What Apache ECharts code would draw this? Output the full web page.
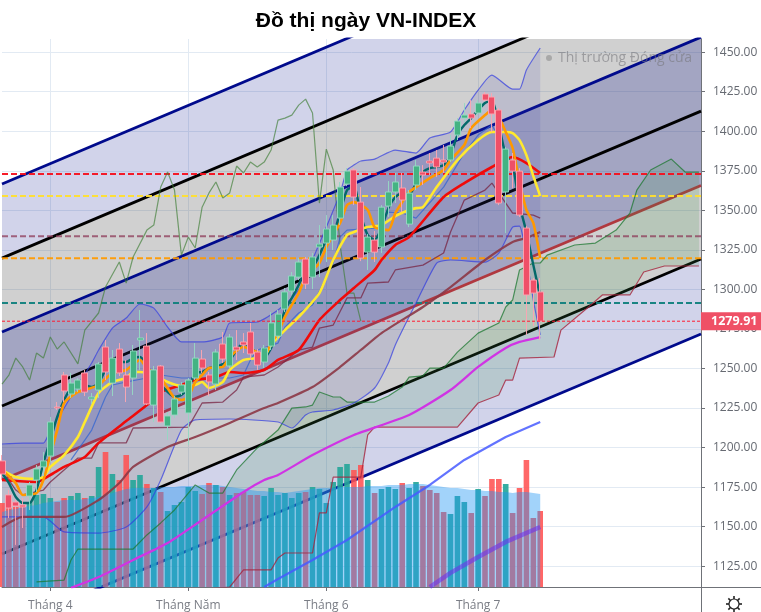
<!DOCTYPE html>
<html><head><meta charset="utf-8"><style>html,body{margin:0;padding:0;background:#fff}#c{width:761px;height:612px}</style>
<script src="https://cdn.jsdelivr.net/npm/echarts@6/dist/echarts.min.js"></script></head>
<body><div id="c"></div><script>
const title='Đồ thị ngày VN-INDEX';
const statusText='Thị trường Đóng cửa';
const lastClose=1279.91;
const tickIndex=[7,27,47,69];
const tickNames=['Tháng 4','Tháng Năm','Tháng 6','Tháng 7'];
const priceTicks=[1125,1150,1175,1200,1225,1250,1275,1300,1325,1350,1375,1400,1425,1450];
const opens=[1191.6,1170.1,1165.6,1163.7,1169.4,1179.5,1187.8,1194.7,1225.7,1245.9,1233.9,1237,1247.2,1230.7,1236.4,1263.6,1240.8,1262.3,1245.9,1244,1268,1264.2,1226.9,1251.6,1213.7,1220.6,1235.1,1221.9,1244,1256,1245.9,1240.2,1265.5,1251.6,1263.6,1266.8,1273.1,1260.4,1254.1,1264.2,1270.5,1287.6,1299,1307.8,1319.2,1307.8,1326.8,1329.3,1331.2,1345.1,1366.6,1375.5,1355.2,1323.6,1331.2,1326.8,1352.7,1361.6,1364.1,1341.3,1366,1374.2,1381.2,1383,1381.8,1381.8,1397.6,1408.3,1410.9,1411.5,1423.5,1421.6,1413.4,1361.6,1381.8,1374.8,1338.8,1305.9,1298.4];
const closes=[1183.3,1161.8,1163.1,1162.5,1176.4,1186.5,1191.6,1216.2,1225,1235.8,1240.8,1242.7,1235.1,1232,1252.9,1247.8,1256.6,1247.2,1238.3,1261.1,1269.3,1227.6,1249.1,1216.2,1220,1230.7,1239.6,1242.7,1256.6,1250.3,1241.5,1260.4,1256,1269.9,1261.7,1264.9,1259.2,1252.2,1263,1278.8,1284.4,1298.4,1308.5,1317.3,1303.4,1320.5,1328.7,1338.2,1340.7,1364.7,1374.8,1358.4,1319.8,1333.1,1323.6,1352,1361.6,1367.9,1356.5,1360.9,1378,1372.3,1379.9,1377.4,1380.5,1390.6,1406.4,1410.2,1408.3,1417.8,1419.7,1410.9,1354.6,1388.7,1374.8,1347,1296.5,1297.7,1279.91];
const lows=[1179.5,1155.5,1138.5,1149.2,1160.6,1172,1182,1191,1223.8,1228.8,1231.4,1235.1,1232.6,1227.6,1231.4,1242.7,1232.6,1245.3,1228.8,1233.3,1249.1,1226.9,1216.2,1215.6,1204.8,1218.7,1233.3,1201.7,1242.7,1247.2,1232.6,1236.4,1253.5,1250.3,1255.4,1259.8,1255.4,1249.1,1250.3,1261.7,1268,1285.7,1296.5,1305.9,1300.3,1300.3,1307.8,1317.3,1324.9,1340.7,1365.3,1353.3,1317.9,1312.3,1317.3,1323,1345.8,1354.6,1348.9,1339.4,1362.8,1366,1372.3,1371,1373.6,1380.5,1394.4,1405.8,1402,1410.2,1419.1,1399.5,1353.3,1335.6,1364.1,1345.8,1271.2,1276.9,1268];
const highs=[1195.3,1173.2,1166.9,1168.2,1178.3,1189,1197.2,1219.4,1228.8,1247.8,1247.2,1244,1249.1,1234.5,1254.1,1268,1261.7,1266.1,1255.4,1264.9,1287,1272.4,1251.6,1252.2,1222.5,1232.6,1241.5,1244,1266.1,1261.7,1247.8,1262.3,1273.1,1271.8,1274.3,1272.4,1278.8,1262.3,1264.9,1285.7,1287,1300.9,1311,1319.8,1320.5,1323,1340.7,1347,1347,1367.9,1376.7,1376.7,1364.7,1335,1336.9,1353.3,1368.5,1373.6,1373.6,1362.8,1381.8,1378.6,1386.2,1388.1,1391.3,1397.6,1408.3,1417.8,1419.7,1419.7,1424.8,1424.1,1414.6,1390,1386.2,1376.7,1340,1307.2,1307.2];
const volumes=[168,164,160,160,170,184,186,178,170,178,182,188,178,182,240,270,226,214,264,214,224,206,198,190,152,164,170,200,192,186,208,204,200,184,188,190,184,184,182,198,184,188,178,188,190,200,196,168,210,240,246,234,244,214,188,196,200,196,208,198,210,202,194,188,150,146,182,170,148,196,182,216,216,206,148,198,254,138,152];
const volumeMA=[150,154,156,160,162,164,168,170,172,174,174,174,176,178,180,184,188,192,196,198,198,198,198,200,200,200,202,202,202,204,204,204,202,200,198,196,194,192,192,190,190,188,190,192,194,196,198,198,198,200,200,200,200,202,202,202,204,204,204,206,206,206,204,202,200,198,198,196,194,194,192,192,190,190,188,190,190,188,186];
const ma5=[[0,1185.9],[2,1177.6],[3,1170.1],[5,1171.3],[6,1179.5],[7,1195.3],[8,1211.1],[9,1228.2],[11,1235.2],[12,1236.4],[14,1239.6],[16,1247.2],[18,1249.1],[20,1255.4],[21,1250.3],[23,1244],[25,1231.4],[26,1230.1],[27,1232],[28,1241.5],[29,1245.9],[30,1250.3],[32,1251],[33,1257.3],[35,1263.6],[37,1260.4],[38,1258.5],[39,1266.1],[40,1272.4],[41,1282.6],[43,1297.7],[44,1307.8],[46,1316.7],[47,1326.8],[49,1342],[50,1353.3],[51,1355.2],[53,1350.2],[54,1339.4],[56,1337.5],[57,1348.3],[58,1355.2],[59,1361.6],[60,1364.7],[62,1370.4],[64,1375.5],[65,1381.8],[67,1391.3],[68,1402],[70,1410.2],[71,1413.4],[72,1409],[73,1399.5],[74,1389.4],[75,1367.9],[76,1350.2],[77,1342],[78,1319.8]];
const ma10=[[0,1185.9],[2,1181.4],[5,1180.2],[6,1181.4],[7,1187.8],[9,1195.3],[11,1206.7],[12,1216.2],[14,1234.5],[16,1241.5],[18,1244],[19,1247.8],[20,1247.8],[22,1245.9],[24,1241.5],[26,1239],[28,1239.6],[29,1241.5],[30,1237.7],[32,1241.5],[33,1249.1],[35,1255.4],[37,1256.6],[38,1257.3],[39,1264.9],[41,1274.3],[43,1282.6],[46,1297.7],[48,1318.6],[50,1334.4],[51,1336.3],[53,1339.4],[55,1340.7],[57,1346.4],[59,1350.2],[60,1351.4],[61,1352],[63,1364.7],[66,1381.8],[69,1394.4],[71,1399.5],[73,1399.5],[74,1398.8],[75,1394.4],[76,1384.9],[77,1371.7],[78,1359]];
const ma20=[[0,1179.5],[5,1178.3],[7,1182.7],[9,1187.8],[12,1194.1],[14,1203],[18,1216.8],[21,1226.9],[23,1235.2],[26,1239.6],[28,1242.7],[31,1244.6],[33,1247.8],[35,1247.2],[38,1249.1],[40,1255.4],[43,1261.7],[46,1280.7],[49,1293.3],[51,1300.9],[54,1312.3],[55,1318.6],[57,1328.1],[59,1333.1],[64,1358.4],[67,1367.2],[71,1377.4],[74,1383.7],[76,1379.9],[78,1373.6]];
const ma50=[[0,1149.8],[3,1156.2],[9,1156.2],[14,1166.9],[17,1177.6],[19,1187.8],[24,1200.4],[28,1206.7],[33,1215.6],[38,1225],[40,1228.2],[45,1238.3],[49,1251],[52,1261.7],[55,1272.4],[61,1288.9],[65,1301.5],[70,1318.6],[74,1330],[76,1332.5],[78,1336.3]];
const ma100=[[10,1111.3],[14,1118.2],[19,1129],[24,1139.7],[29,1154.3],[35,1172],[38,1179.5],[40,1182.7],[45,1195.3],[51,1208],[59,1220.6],[65,1236.4],[69,1251],[73,1263],[75,1266.8],[78,1269.9]];
const ma200=[[38,1111.9],[40,1117],[45,1129],[50,1141.6],[57,1162.5],[62,1176.4],[67,1192.2],[73,1206.7],[78,1216.2]];
const ma300=[[62,1111.9],[65,1120.8],[69,1130.9],[73,1140.4],[78,1149.8]];
const emaFast=[[0,1184],[1,1177.6],[2,1168.8],[3,1165],[4,1165],[5,1173.2],[6,1190.3],[7,1204.8],[8,1219.4],[9,1230.1],[10,1237.7],[11,1240.8],[12,1239.6],[13,1238.3],[14,1240.8],[15,1249.1],[16,1253.5],[17,1254.1],[18,1254.1],[19,1256.6],[20,1257.3],[21,1252.2],[22,1244],[23,1239.6],[25,1232],[26,1233.3],[27,1237.7],[28,1247.2],[29,1247.8],[30,1250.3],[31,1251],[33,1255.4],[34,1261.7],[35,1266.1],[36,1263],[37,1259.8],[38,1256.6],[40,1272.4],[41,1287],[42,1294.6],[43,1302.8],[44,1312.3],[45,1313.5],[46,1321.7],[47,1331.2],[48,1334.4],[49,1348.9],[50,1362.8],[51,1365.3],[52,1347],[53,1334.4],[54,1331.2],[55,1338.8],[56,1351.4],[57,1358.4],[58,1360.9],[59,1359.7],[60,1367.2],[61,1374.2],[62,1376.7],[63,1377.4],[64,1378.6],[65,1384.9],[66,1397.6],[67,1403.9],[68,1408.3],[69,1413.4],[70,1417.8],[71,1419.7],[72,1403.9],[73,1384.9],[74,1378.6],[75,1353.3],[76,1336.3],[77,1315.4],[78,1295.8]];
const tenkan=[[10,1192.2],[12,1204.8],[13,1211.1],[15,1232],[16,1239.6],[18,1241.5],[21,1244],[23,1245.9],[26,1244],[30,1244],[33,1244],[35,1245.9],[36,1255.4],[37,1261.7],[40,1266.1],[41,1276.2],[43,1285.1],[45,1290.1],[48,1316.7],[49,1333.1],[50,1337.5],[54,1338.8],[56,1348.9],[58,1348.3],[60,1345.1],[64,1364.7],[67,1386.2],[69,1397.6],[71,1403.9],[73,1388.1]];
const kijun=[[0,1180.8],[1,1179.5],[2,1173.2],[3,1170.1],[6,1173.2],[7,1178.3],[9,1185.9],[11,1193.4],[13,1193.4],[14,1203],[18,1203],[19,1212.4],[27,1213],[29,1228.2],[32,1228.8],[34,1236.4],[35,1244.6],[38,1245.9],[40,1251],[43,1261.7],[45,1263.6],[46,1275.6],[48,1277.5],[50,1294.6],[52,1294.6],[53,1304],[56,1304.7],[57,1312.3],[61,1315.4],[64,1323],[65,1336.3],[67,1356.5],[70,1362.8],[71,1367.2],[74,1348.3],[77,1347],[78,1345.1]];
const bollUpper=[[0,1202.3],[3,1202.9],[6,1202.9],[7,1211.1],[9,1225],[11,1239.6],[13,1253.5],[14,1261.7],[16,1275.6],[18,1281.9],[20,1290.8],[22,1288.2],[24,1276.2],[26,1266.8],[29,1266.8],[32,1269.9],[33,1278.8],[37,1279.4],[40,1287],[42,1294.6],[44,1305.9],[45,1318.6],[47,1339.4],[49,1360.9],[50,1375.5],[51,1378.6],[52,1381.2],[54,1382.4],[57,1388.1],[60,1386.2],[62,1395.7],[65,1399.5],[67,1413.4],[69,1426],[71,1435.5],[74,1426.6],[75,1426.6],[76,1438.7],[78,1452.6]];
const bollLower=[[0,1156.2],[6,1156.2],[9,1146.7],[14,1146],[18,1149.8],[21,1162.5],[23,1179.5],[26,1211.1],[28,1217.5],[33,1218.1],[40,1216.2],[42,1212.4],[44,1220.6],[45,1222.5],[48,1223.8],[51,1228.2],[54,1237.7],[56,1253.5],[57,1264.9],[60,1291.4],[63,1316.7],[65,1318.6],[70,1317.3],[72,1323],[74,1339.4],[75,1340],[76,1320.5],[77,1293.3],[78,1271.2]];
const spanA=[[5,1115.1],[9,1116.3],[10,1129],[11,1135.9],[19,1135.9],[21,1144.8],[23,1152.4],[25,1160.6],[28,1176.4],[30,1171.3],[32,1171.3],[34,1185.9],[37,1199.8],[40,1211.1],[42,1225],[44,1225.7],[45,1226.9],[46,1235.2],[48,1232],[49,1232],[50,1228.8],[51,1228.8],[54,1228.8],[56,1232.6],[58,1238.3],[59,1244.6],[61,1245.3],[62,1250.3],[64,1250.3],[66,1260.4],[69,1272.4],[72,1278.8],[73,1288.9],[74,1293.3],[75,1312.3],[77,1316.7],[78,1316.7],[79,1321.7],[83,1328.1],[86,1329.3],[89,1337.5],[91,1348.3],[92,1362.8],[94,1375.5],[97,1382.4],[99,1374.2],[101,1374.2]];
const spanB=[[5,1100],[33,1111.9],[35,1122.7],[39,1122.7],[40,1130.2],[41,1133.4],[45,1133.4],[46,1158.7],[47,1158.7],[48,1181.4],[52,1181.4],[53,1208],[54,1213],[66,1213],[69,1228.2],[72,1233.3],[73,1242.7],[74,1242.7],[75,1256.6],[80,1257.3],[81,1274.3],[85,1288.9],[87,1296.5],[91,1296.5],[93,1311],[96,1314.8],[101,1314.8]];
const chikou=[[0,1240.2],[1,1245.9],[2,1256.6],[3,1251],[4,1242.7],[5,1259.8],[6,1256.6],[7,1269.9],[8,1262.3],[9,1266.8],[11,1252.9],[12,1274.3],[14,1285.1],[15,1301.5],[17,1317.3],[18,1304],[19,1320.5],[21,1337.5],[22,1340.7],[23,1364.7],[24,1374.2],[25,1362.8],[26,1321.7],[27,1333.1],[28,1326.2],[29,1352],[30,1361],[31,1367.9],[32,1357.8],[33,1361],[34,1378],[35,1373.6],[36,1380.5],[37,1377.4],[38,1380.5],[39,1388.1],[40,1407],[41,1408.3],[42,1410.2],[43,1416.5],[44,1420.3],[45,1411.5],[46,1354.6],[47,1388.7],[48,1375.5],[49,1328.1],[50,1297.7],[51,1297.7],[52,1279.91]];
const channelStart=[1366.6,1319.8,1273.1,1226.3,1179.5,1132.8,1085.4];
const channelEnd=[1553.1,1506.3,1459.5,1412.7,1365.7,1319.2,1271.8];
const channelColors=['#000a8c','#000000','#000a8c','#000000','#b0383f','#000000','#000a8c'];
const bandColors=['rgba(26,35,150,.2)','rgba(66,66,66,.25)','rgba(50,55,120,.45)','rgba(50,55,120,.45)','rgba(66,66,66,.25)','rgba(26,35,150,.2)'];
const levels=[1372.9,1359,1333.6,1319.7,1291.4];
const levelColors=['#f5101e','#ffdf2e','#8e3a58','#ff9a00','#0f7f7c'];
const xMax=101.3, yMin=1111.9, yMax=1458.3;

const chart=echarts.init(document.getElementById('c'));
const isUp=i=>closes[i]>=opens[i];
function line(name,data,color,width,extra){return Object.assign({type:'line',name,data,showSymbol:false,symbol:'none',animation:false,silent:true,z:6,lineStyle:{color,width}},extra||{});}
const soft={smooth:.2};
function polygon(name,getPts,fill,z){return {type:'custom',name,clip:true,silent:true,animation:false,z,data:[[0]],coordinateSystem:'cartesian2d',encode:{x:0},
  renderItem:(p,api)=>({type:'polygon',shape:{points:getPts().map(q=>api.coord(q))},style:{fill}})};}
const series=[];
series.push(line('guides',[[0,1300]],'transparent',0,{z:0,markLine:{z:0,silent:true,symbol:'none',animation:false,label:{show:false},lineStyle:{color:'#e2eaf3',width:1,type:'solid'},data:tickIndex.map(x=>({xAxis:x})).concat(priceTicks.map(y=>({yAxis:y})))}}));
bandColors.forEach((fill,k)=>series.push(polygon('band'+k,()=>[[0,channelStart[k]],[xMax,channelEnd[k]],[xMax,channelEnd[k+1]],[0,channelStart[k+1]]],fill,1)));
channelColors.forEach((c,k)=>series.push(line('channel'+k,[[0,channelStart[k]],[xMax,channelEnd[k]]],c,2.8,{z:2})));
series.push(polygon('cloud',()=>spanA.concat(spanB.slice().reverse()),'rgba(60,150,70,.17)',3));
series.push(polygon('boll',()=>bollUpper.concat(bollLower.slice().reverse()),'rgba(60,60,175,.13)',3));
levels.forEach((v,k)=>series.push(line('level'+k,[[0,v],[xMax,v]],levelColors[k],2,{z:3,lineStyle:{color:levelColors[k],width:2,type:[6,3],opacity:k===2?.75:.95}})));
series.push({type:'bar',name:'volume',yAxisIndex:1,barWidth:5.6,animation:false,silent:true,z:4,
  data:volumes.map((v,i)=>({value:[i,v],itemStyle:{color:isUp(i)?'rgba(38,166,154,.92)':'rgba(255,82,82,.88)'}}))});
series.push(line('volume MA',volumeMA.map((v,i)=>[i,v]),'rgba(33,150,243,.1)',0,{yAxisIndex:1,z:5,areaStyle:{color:'rgba(33,150,243,.42)',opacity:1}}));
series.push(line('chikou',chikou,'rgba(60,125,50,.65)',1.2));
series.push(line('spanA',spanA,'rgba(30,120,50,.75)',1.2));
series.push(line('spanB',spanB,'rgba(165,35,60,.8)',1.2));
series.push(line('bollUpper',bollUpper,'rgba(50,60,225,.7)',1.2,soft));
series.push(line('bollLower',bollLower,'rgba(50,60,225,.7)',1.2,soft));
series.push(line('kijun',kijun,'rgba(120,35,65,.75)',1.3));
series.push(line('tenkan',tenkan,'rgba(50,100,210,.75)',1.2));
series.push(line('ma300',ma300,'rgba(110,50,235,.6)',4.5));
series.push(line('ma200',ma200,'rgba(70,90,255,.85)',2.2));
series.push(line('ma100',ma100,'#d034e4',2.3,soft));
series.push(line('ma50',ma50,'rgba(140,55,70,.9)',2.2,soft));
series.push(line('ma20',ma20,'#f00a0a',2.6,soft));
series.push(line('emaFast',emaFast,'#04696a',2.4,soft));
series.push(line('ma10',ma10,'#ffe92e',2.6,soft));
series.push(line('ma5',ma5,'#ff9800',2.6,soft));
series.push({type:'candlestick',name:'VN-INDEX',barWidth:6.5,animation:false,silent:true,z:7,encode:{x:0,y:[1,2,3,4]},
  data:opens.map((o,i)=>[i,o,closes[i],lows[i],highs[i]]),
  itemStyle:{color:'#44b383',color0:'#ef4f68',borderColor:'rgba(150,215,195,.95)',borderColor0:'rgba(250,165,178,.95)',borderWidth:1}});
series.push(line('last',[[0,lastClose],[xMax,lastClose]],'#ff1a30',1,{z:8,lineStyle:{color:'#ff1a30',width:1,type:[3,2]},markLine:{z:8,silent:true,symbol:'none',animation:false,precision:2,
  lineStyle:{color:'rgba(255,26,48,0)',width:0},
  label:{position:'end',distance:0,formatter:()=>lastClose.toFixed(2),backgroundColor:'#ef5066',color:'#fff',fontFamily:'Open Sans',fontWeight:'bold',fontSize:12.5,padding:[3,4,3,10],width:46,height:12,lineHeight:12},
  data:[{yAxis:lastClose}]}}));

const gear=[{type:'circle',shape:{cx:734,cy:604,r:5},style:{fill:'none',stroke:'#222',lineWidth:1.2},silent:true}];
for(let a=0;a<8;a++){const t=a*Math.PI/4;gear.push({type:'line',silent:true,shape:{x1:734+5*Math.cos(t),y1:604+5*Math.sin(t),x2:734+8*Math.cos(t),y2:604+8*Math.sin(t)},style:{stroke:'#222',lineWidth:1.6}});}

chart.setOption({animation:false,backgroundColor:'#fff',
 title:{text:title,left:361,top:6,textAlign:'center',textStyle:{fontFamily:'Liberation Sans',fontWeight:'bold',fontSize:21,color:'#000'}},
 grid:{left:2,right:60,top:39,bottom:25,containLabel:false},
 xAxis:{type:'value',min:0,max:xMax,splitLine:{show:false},
  axisLine:{show:true,onZero:false,lineStyle:{color:'#6f7278',width:1}},
  axisTick:{show:true,length:4,lineStyle:{color:'#6f7278'},customValues:tickIndex},
  axisLabel:{show:true,customValues:tickIndex,formatter:v=>tickNames[tickIndex.indexOf(v)]||'',color:'#7a7d85',fontFamily:'Open Sans',fontSize:12,margin:13}},
 yAxis:[{type:'value',position:'right',min:yMin,max:yMax,
  axisLine:{show:true,onZero:false,lineStyle:{color:'#6f7278',width:1}},
  axisTick:{show:true,length:4,lineStyle:{color:'#6f7278'},customValues:priceTicks},
  splitLine:{show:false},
  axisLabel:{color:'#666a72',fontFamily:'Open Sans',fontSize:12,margin:12,customValues:priceTicks,formatter:v=>v.toFixed(2)}},
  {type:'value',show:false,position:'right',min:0,max:1096,splitLine:{show:false},axisLine:{show:false,onZero:false},axisTick:{show:false},axisLabel:{show:false}}],
 graphic:[
  {type:'circle',silent:true,shape:{cx:549,cy:58,r:3},style:{fill:'#a8a8a8'},z:20},
  {type:'text',silent:true,x:558,y:51,z:20,style:{text:statusText,fill:'rgba(120,120,125,.6)',font:'14px "Open Sans"'}},
  {type:'line',silent:true,shape:{x1:701,y1:587.5,x2:761,y2:587.5},style:{stroke:'#6f7278'}},
  {type:'line',silent:true,shape:{x1:701.5,y1:587,x2:701.5,y2:612},style:{stroke:'#6f7278'}},
  ...gear],
 series});
</script></body></html>
